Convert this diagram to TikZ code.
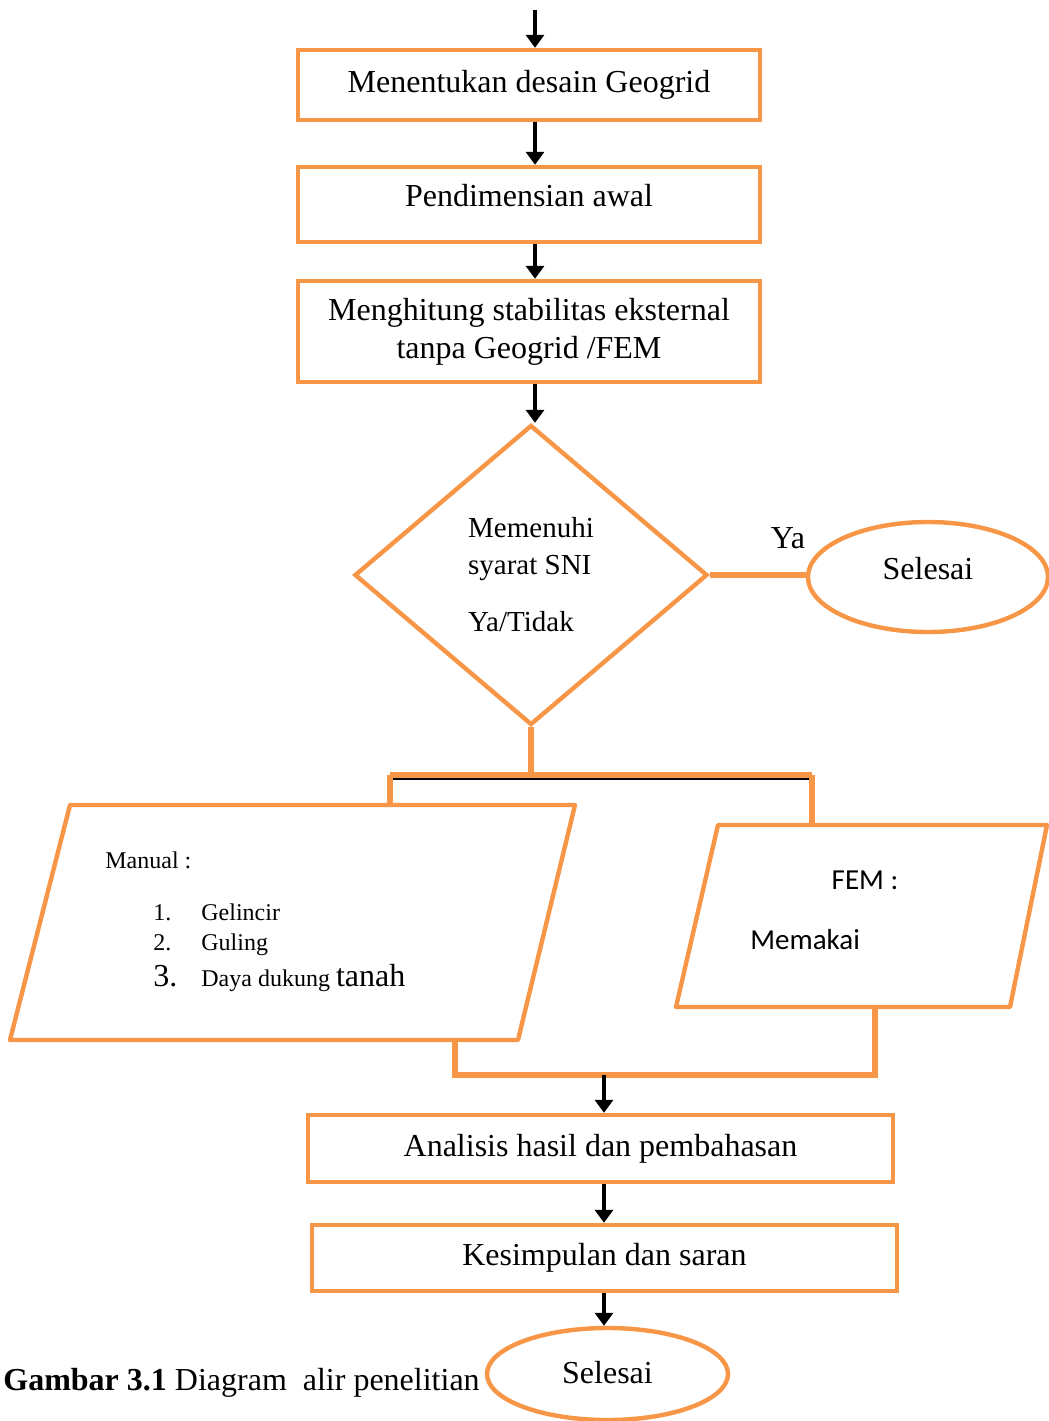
\documentclass[tikz,border=0pt]{standalone}
\usepackage{fontspec}
\setmainfont{Liberation Serif}
\newfontfamily\calibri{Carlito}
\usetikzlibrary{shapes.geometric,arrows.meta}
\definecolor{oranye}{HTML}{F79646}
\def\besar{\fontsize{16}{19}\selectfont}
\def\kecil{\fontsize{12}{15}\selectfont}
\def\nomor#1{\hspace*{24pt}\makebox[24pt][l]{#1}}

\begin{document}
\begin{tikzpicture}[x=0.5pt,y=0.5pt]
\tikzstyle{every node}+=[inner sep=0pt]
\tikzstyle{kotak}=[draw=oranye, line width=2.2pt, minimum width=231pt, align=center, font=\besar]
\tikzstyle{elips}=[ellipse, draw=oranye, line width=2.2pt, font=\besar]
\tikzstyle{panah}=[black, line width=2.4pt, -{Triangle[length=6.5pt,width=9pt]}]
\tikzstyle{garis}=[oranye, line width=2.6pt]
\useasboundingbox (0,0) rectangle (1049,-1421);
\coordinate (mulai) at (535,-10);
\node[kotak, minimum height=35pt] (b1) at (529,-85) {Menentukan desain Geogrid};
\node[kotak, minimum height=37.5pt, text depth=9.5pt] (b2) at (529,-204.5) {Pendimensian awal};
\node[kotak, minimum height=50.5pt] (b3) at (529,-331.5) {Menghitung stabilitas eksternal\\tanpa Geogrid /FEM};
\node[diamond, draw=oranye, line width=2.2pt, minimum width=176.5pt, minimum height=150pt, align=left, font=\fontsize{14.5}{18.5}\selectfont] (sni) at (531,-575) {Memenuhi\\syarat SNI\\[10pt]Ya/Tidak};
\node[elips, minimum width=120pt, minimum height=55pt, text depth=9pt] (s1) at (928,-577) {Selesai};
\node[font=\besar] (ya) at (788,-538) {Ya};
\draw[panah] (mulai) -- (mulai |- b1.north);
\draw[panah] (b1.south -| mulai) -- (b2.north -| mulai);
\draw[panah] (b2.south -| mulai) -- (b3.north -| mulai);
\draw[panah] (b3.south -| mulai) -- (sni.north -| mulai);
\draw[garis] (sni.east) -- (sni.east -| s1.west);
\coordinate (pL) at (390,-775);
\coordinate (pR) at (812,-775);
\draw[garis] (sni.south) -- (sni.south |- pL);
\draw[garis] (pL) -- (pR);
\draw[black, line width=1pt] ([yshift=-2pt]pL) -- ([yshift=-2pt]pR);
\coordinate (m1) at (70,-805);
\coordinate (m2) at (575,-805);
\coordinate (m3) at (518,-1040);
\coordinate (m4) at (10,-1040);
\draw[oranye, line width=2.2pt, line join=round] (m1) -- (m2) -- (m3) -- (m4) -- cycle;
\coordinate (f1) at (718,-825);
\coordinate (f2) at (1047,-825);
\coordinate (f3) at (1010,-1007);
\coordinate (f4) at (676,-1007);
\draw[oranye, line width=2.2pt, line join=round] (f1) -- (f2) -- (f3) -- (f4) -- cycle;
\draw[garis] (pL) -- (pL |- m1);
\draw[garis] (pR) -- (pR |- f1);
\node[anchor=north west, align=left, font=\kecil] (manual) at (105,-851) {Manual :\\[11pt]
\nomor{1.}Gelincir\\
\nomor{2.}Guling\\[3pt]
\nomor{\fontsize{16}{18}\selectfont 3.}Daya dukung {\fontsize{16}{18}\selectfont tanah}};
\node[font=\calibri\fontsize{14.5}{17}\selectfont] (fem) at (865,-880) {FEM :};
\node[anchor=west, font=\calibri\fontsize{14.5}{17}\selectfont] (pakai) at (750,-940) {Memakai};
\coordinate (qL) at (455,-1075);
\coordinate (qR) at (875,-1075);
\coordinate (gab) at (604,-1075);
\node[kotak, minimum width=292.5pt, minimum height=33.5pt] (b4) at (600.5,-1148.5) {Analisis hasil dan pembahasan};
\node[kotak, minimum width=292.5pt, minimum height=33pt] (b5) at (604.5,-1258) {Kesimpulan dan saran};
\node[elips, minimum width=120.5pt, minimum height=46pt, text depth=2pt] (s2) at (607.5,-1374) {Selesai};
\draw[garis] (qL |- m3) -- (qL) -- (qR) -- (qR |- f3);
\draw[panah] (gab) -- (gab |- b4.north);
\draw[panah] (b4.south -| gab) -- (b5.north -| gab);
\draw[panah] (b5.south -| gab) -- (s2.north -| gab);
\node[anchor=base west, font=\fontsize{16}{19}\selectfont] (judul) at (3,-1390) {\textbf{Gambar 3.1} Diagram\ \ alir penelitian};
\end{tikzpicture}
\end{document}
